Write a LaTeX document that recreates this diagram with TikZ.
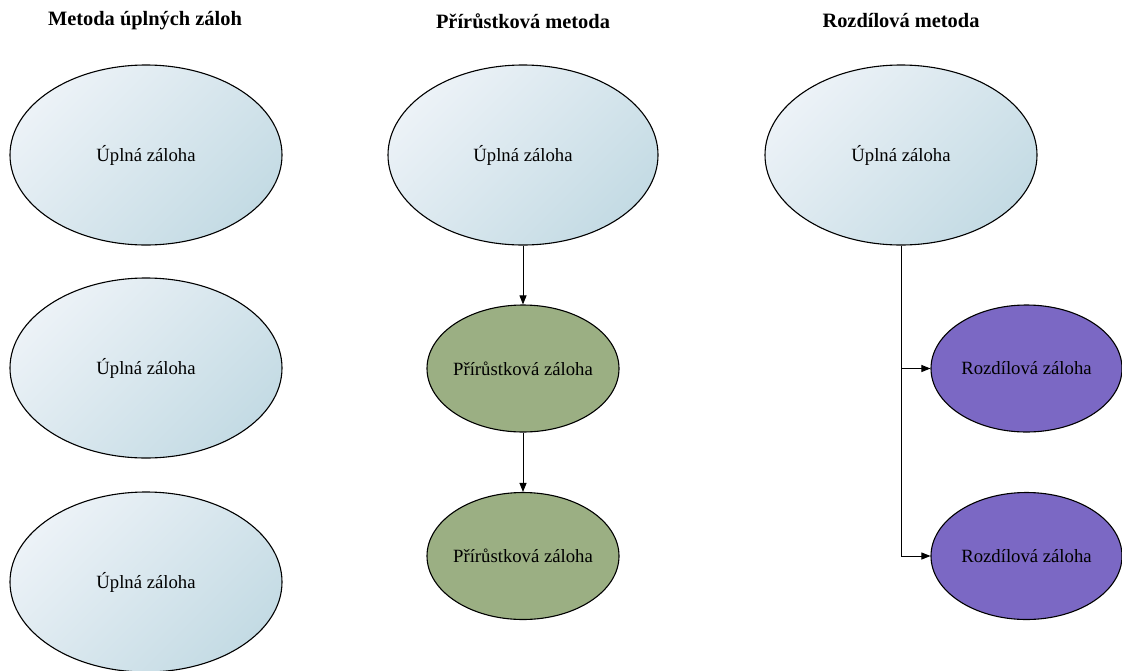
\documentclass[tikz,border=0pt]{standalone}
\usepackage{fontspec}
\setmainfont{Liberation Serif}
\usetikzlibrary{shapes.geometric,arrows.meta}

\definecolor{fullhi}{RGB}{236,242,247}
\definecolor{fulllo}{RGB}{196,219,228}
\definecolor{incfill}{RGB}{155,175,131}
\definecolor{difffill}{RGB}{123,104,196}

\tikzset{
  oval/.style={ellipse, draw=black, line width=1.1pt, inner sep=0pt,
    font=\fontsize{18.7}{22}\selectfont},
  fullbk/.style={oval, minimum width=272pt, minimum height=180pt,
    top color=fullhi, bottom color=fulllo, shading angle=45},
  incbk/.style={oval, inner xsep=-20pt, fill=incfill,
    minimum width=192pt, minimum height=127pt},
  diffbk/.style={oval, inner xsep=-20pt, fill=difffill,
    minimum width=191pt, minimum height=127pt},
  heading/.style={font=\bfseries\fontsize{20.4}{24}\selectfont},
  link/.style={draw=black, line width=0.9pt, -{Triangle[length=9pt,width=7pt]}}
}

\begin{document}
\begin{tikzpicture}[x=1pt,y=-1pt]
  \useasboundingbox (0,0) rectangle (1122,670);
  \clip (0,0) rectangle (1122,670);

  % column headings
  \node[heading] (h1) at (145,21) {Metoda úplných záloh};
  \node[heading] (h2) at (523,21) {Přírůstková metoda};
  \node[heading] (h3) at (901,21) {Rozdílová metoda};

  % full backups only
  \node[fullbk] (f1) at (146,155) {Úplná záloha};
  \node[fullbk] (f2) at (146,368) {Úplná záloha};
  \node[fullbk] (f3) at (146,582) {Úplná záloha};

  % incremental method
  \node[fullbk, minimum width=270pt] (i0) at (523,155) {Úplná záloha};
  \node[incbk] (i1) at (523,368.5) {Přírůstková záloha};
  \node[incbk] (i2) at (523,556) {Přírůstková záloha};
  \draw[link] (i0.south) -- (i1.north);
  \draw[link] (i1.south) -- (i2.north);

  % differential method
  \node[fullbk] (d0) at (901,155) {Úplná záloha};
  \node[diffbk] (d1) at (1026.5,368.5) {Rozdílová záloha};
  \node[diffbk] (d2) at (1026.5,556) {Rozdílová záloha};
  \draw[link] (d0.south) |- (d1.west);
  \draw[link] (d0.south) |- (d2.west);
\end{tikzpicture}
\end{document}
